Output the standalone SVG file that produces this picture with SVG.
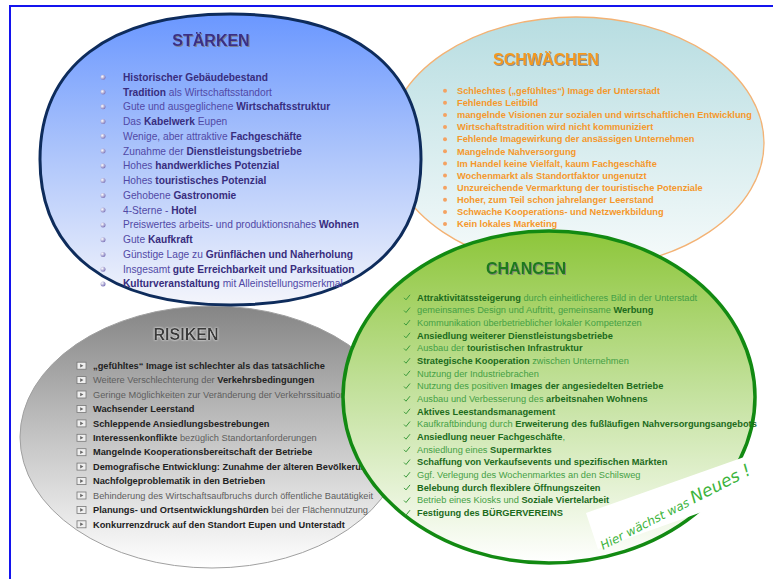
<svg xmlns="http://www.w3.org/2000/svg" width="773" height="579" viewBox="0 0 773 579">
<defs>
<linearGradient id="gStaerken" x1="0" y1="0" x2="0" y2="1">
<stop offset="0" stop-color="#6a97ff"/><stop offset="0.45" stop-color="#a9c2fb"/><stop offset="1" stop-color="#f4f5fb"/>
</linearGradient>
<linearGradient id="gSchw" x1="0" y1="0" x2="0" y2="1">
<stop offset="0" stop-color="#b7dde1"/><stop offset="1" stop-color="#f7fbfb"/>
</linearGradient>
<linearGradient id="gChancen" x1="0" y1="0" x2="0" y2="1">
<stop offset="0" stop-color="#8dc63a"/><stop offset="0.5" stop-color="#c5e2a0"/><stop offset="1" stop-color="#ffffff"/>
</linearGradient>
<linearGradient id="gRisiken" x1="0" y1="0" x2="0" y2="1">
<stop offset="0" stop-color="#858585"/><stop offset="0.5" stop-color="#c4c4c4"/><stop offset="1" stop-color="#ffffff"/>
</linearGradient>
<radialGradient id="gBulS" cx="0.35" cy="0.35" r="0.7">
<stop offset="0" stop-color="#ffffff"/><stop offset="1" stop-color="#7a72b8"/>
</radialGradient>
<filter id="shadow" x="-10%" y="-30%" width="130%" height="170%">
<feDropShadow dx="1" dy="1" stdDeviation="0.6" flood-color="#777" flood-opacity="0.8"/>
</filter>
<filter id="shadowW" x="-10%" y="-30%" width="130%" height="170%">
<feDropShadow dx="0" dy="0" stdDeviation="0.8" flood-color="#fff" flood-opacity="1"/>
</filter>
<circle id="bS" r="2.5" fill="url(#gBulS)"/>
<circle id="bW" r="2" fill="#f4a262"/>
<path id="bC" d="M-3,0.5 L-1,2.5 L3,-2.5" fill="none" stroke="#3a9a3a" stroke-width="1"/>
<g id="bR"><rect x="-5" y="-3.5" width="9" height="7" fill="#efefef" stroke="#777" stroke-width="0.8"/><path d="M-1.8,-1.8 L1.4,0 L-1.8,1.8 Z" fill="#666"/></g>
<style>
text{font-family:"Liberation Sans",Arial,sans-serif}
.title{font-size:16px;font-weight:bold;text-anchor:middle}
.ts{fill:#3b2f85}
.tw{fill:#f39a1f}
.tc{fill:#1d7a1d}
.tr{fill:#3a3a3a}
.st{font-size:10.2px;fill:#5149a6}
.st .b{font-weight:bold;fill:#382d7e}
.sw{font-size:9.25px;fill:#f5982c;font-weight:bold}
.ch{font-size:9.25px;fill:#45a045}
.ch .b{font-weight:bold;fill:#1c6b1c}
.ri{font-size:9.25px;fill:#5e5e5e}
.ri .b{font-weight:bold;fill:#222}
.hand{font-family:"DejaVu Sans",sans-serif;font-style:italic;fill:#3cb43c}
</style>
</defs>
<rect x="0" y="0" width="773" height="579" fill="#ffffff"/>
<rect id="frame" x="10" y="6" width="800" height="600" fill="none" stroke="#1414ee" stroke-width="2"/>

<g id="schwaechen">
<ellipse cx="576" cy="143" rx="188" ry="126" fill="url(#gSchw)" stroke="#f3b274" stroke-width="1.3"/>
<text class="title tw" x="546" y="64.8" filter="url(#shadow)">SCHWÄCHEN</text>
<use href="#bW" x="445" y="90.7"/><use href="#bW" x="445" y="102.8"/><use href="#bW" x="445" y="114.9"/><use href="#bW" x="445" y="127.1"/><use href="#bW" x="445" y="139.2"/><use href="#bW" x="445" y="151.3"/><use href="#bW" x="445" y="163.4"/><use href="#bW" x="445" y="175.5"/><use href="#bW" x="445" y="187.7"/><use href="#bW" x="445" y="199.8"/><use href="#bW" x="445" y="211.9"/><use href="#bW" x="445" y="224"/>
<text class="sw" x="457" y="93.9">Schlechtes („gefühltes“) Image der Unterstadt</text>
<text class="sw" x="457" y="106">Fehlendes Leitbild</text>
<text class="sw" x="457" y="118.1">mangelnde Visionen zur sozialen und wirtschaftlichen Entwicklung</text>
<text class="sw" x="457" y="130.3">Wirtschaftstradition wird nicht kommuniziert</text>
<text class="sw" x="457" y="142.4">Fehlende Imagewirkung der ansässigen Unternehmen</text>
<text class="sw" x="457" y="154.5">Mangelnde Nahversorgung</text>
<text class="sw" x="457" y="166.6">Im Handel keine Vielfalt, kaum Fachgeschäfte</text>
<text class="sw" x="457" y="178.7">Wochenmarkt als Standortfaktor ungenutzt</text>
<text class="sw" x="457" y="190.9">Unzureichende Vermarktung der touristische Potenziale</text>
<text class="sw" x="457" y="203">Hoher, zum Teil schon jahrelanger Leerstand</text>
<text class="sw" x="457" y="215.1">Schwache Kooperations- und Netzwerkbildung</text>
<text class="sw" x="457" y="227.2">Kein lokales Marketing</text>
</g>

<g id="risiken">
<ellipse cx="212" cy="437" rx="192" ry="131" fill="url(#gRisiken)" stroke="#a0a0a0" stroke-width="1"/>
<text class="title tr" x="186" y="339.8" filter="url(#shadowW)">RISIKEN</text>
<use href="#bR" x="82" y="365.7"/><use href="#bR" x="82" y="380.1"/><use href="#bR" x="82" y="394.5"/><use href="#bR" x="82" y="409"/><use href="#bR" x="82" y="423.4"/><use href="#bR" x="82" y="437.8"/><use href="#bR" x="82" y="452.2"/><use href="#bR" x="82" y="466.6"/><use href="#bR" x="82" y="481.1"/><use href="#bR" x="82" y="495.5"/><use href="#bR" x="82" y="509.9"/><use href="#bR" x="82" y="524.3"/>
<text class="ri" x="93" y="368.9"><tspan class="b">„gefühltes“ Image ist schlechter als das tatsächliche</tspan></text>
<text class="ri" x="93" y="383.3">Weitere Verschlechterung der <tspan class="b">Verkehrsbedingungen</tspan></text>
<text class="ri" x="93" y="397.7">Geringe Möglichkeiten zur Veränderung der Verkehrssituation</text>
<text class="ri" x="93" y="412.2"><tspan class="b">Wachsender Leerstand</tspan></text>
<text class="ri" x="93" y="426.6"><tspan class="b">Schleppende Ansiedlungsbestrebungen</tspan></text>
<text class="ri" x="93" y="441"><tspan class="b">Interessenkonflikte</tspan> bezüglich Standortanforderungen</text>
<text class="ri" x="93" y="455.4"><tspan class="b">Mangelnde Kooperationsbereitschaft der Betriebe</tspan></text>
<text class="ri" x="93" y="469.8"><tspan class="b">Demografische Entwicklung: Zunahme der älteren Bevölkerung</tspan></text>
<text class="ri" x="93" y="484.3"><tspan class="b">Nachfolgeproblematik in den Betrieben</tspan></text>
<text class="ri" x="93" y="498.7">Behinderung des Wirtschaftsaufbruchs durch öffentliche Bautätigkeit</text>
<text class="ri" x="93" y="513.1"><tspan class="b">Planungs- und Ortsentwicklungshürden</tspan> bei der Flächennutzung</text>
<text class="ri" x="93" y="527.5"><tspan class="b">Konkurrenzdruck auf den Standort Eupen und Unterstadt</tspan></text>
</g>

<g id="staerken">
<path d="M421,159.5 C421,252.6 352.4,305 230.5,305 C108.6,305 40,252.6 40,159.5 C40,66.4 108.6,14 230.5,14 C352.4,14 421,66.4 421,159.5 Z" fill="url(#gStaerken)" stroke="#0e2c5c" stroke-width="3"/>
<text class="title ts" x="211" y="45.8" filter="url(#shadow)">STÄRKEN</text>
<use href="#bS" x="103" y="77.3"/><use href="#bS" x="103" y="92.1"/><use href="#bS" x="103" y="106.8"/><use href="#bS" x="103" y="121.6"/><use href="#bS" x="103" y="136.3"/><use href="#bS" x="103" y="151.1"/><use href="#bS" x="103" y="165.9"/><use href="#bS" x="103" y="180.6"/><use href="#bS" x="103" y="195.4"/><use href="#bS" x="103" y="210.1"/><use href="#bS" x="103" y="224.9"/><use href="#bS" x="103" y="239.7"/><use href="#bS" x="103" y="254.4"/><use href="#bS" x="103" y="269.2"/><use href="#bS" x="103" y="283.9"/>
<text class="st" x="123" y="80.8"><tspan class="b">Historischer Gebäudebestand</tspan></text>
<text class="st" x="123" y="95.6"><tspan class="b">Tradition</tspan> als Wirtschaftsstandort</text>
<text class="st" x="123" y="110.3">Gute und ausgeglichene <tspan class="b">Wirtschaftsstruktur</tspan></text>
<text class="st" x="123" y="125.1">Das <tspan class="b">Kabelwerk</tspan> Eupen</text>
<text class="st" x="123" y="139.8">Wenige, aber attraktive <tspan class="b">Fachgeschäfte</tspan></text>
<text class="st" x="123" y="154.6">Zunahme der <tspan class="b">Dienstleistungsbetriebe</tspan></text>
<text class="st" x="123" y="169.4">Hohes <tspan class="b">handwerkliches Potenzial</tspan></text>
<text class="st" x="123" y="184.1">Hohes <tspan class="b">touristisches Potenzial</tspan></text>
<text class="st" x="123" y="198.9">Gehobene <tspan class="b">Gastronomie</tspan></text>
<text class="st" x="123" y="213.6">4-Sterne - <tspan class="b">Hotel</tspan></text>
<text class="st" x="123" y="228.4">Preiswertes arbeits- und produktionsnahes <tspan class="b">Wohnen</tspan></text>
<text class="st" x="123" y="243.2">Gute <tspan class="b">Kaufkraft</tspan></text>
<text class="st" x="123" y="257.9">Günstige Lage zu <tspan class="b">Grünflächen und Naherholung</tspan></text>
<text class="st" x="123" y="272.7">Insgesamt <tspan class="b">gute Erreichbarkeit und Parksituation</tspan></text>
<text class="st" x="123" y="287.4"><tspan class="b">Kulturveranstaltung</tspan> mit Alleinstellungsmerkmal</text>
</g>

<g id="chancen">
<ellipse cx="549" cy="397" rx="206" ry="166" fill="url(#gChancen)" stroke="#128a12" stroke-width="3.5"/>
<text class="title tc" x="526" y="273.8" filter="url(#shadow)">CHANCEN</text>
<use href="#bC" x="407" y="297.3"/><use href="#bC" x="407" y="310"/><use href="#bC" x="407" y="322.6"/><use href="#bC" x="407" y="335.3"/><use href="#bC" x="407" y="348"/><use href="#bC" x="407" y="360.7"/><use href="#bC" x="407" y="373.3"/><use href="#bC" x="407" y="386"/><use href="#bC" x="407" y="398.7"/><use href="#bC" x="407" y="411.3"/><use href="#bC" x="407" y="424"/><use href="#bC" x="407" y="436.7"/><use href="#bC" x="407" y="449.3"/><use href="#bC" x="407" y="462"/><use href="#bC" x="407" y="474.7"/><use href="#bC" x="407" y="487.4"/><use href="#bC" x="407" y="500"/><use href="#bC" x="407" y="512.7"/>
<text class="ch" x="417" y="300.5"><tspan class="b">Attraktivitätssteigerung</tspan> durch einheitlicheres Bild in der Unterstadt</text>
<text class="ch" x="417" y="313.2">gemeinsames Design und Auftritt, gemeinsame <tspan class="b">Werbung</tspan></text>
<text class="ch" x="417" y="325.8">Kommunikation überbetrieblicher lokaler Kompetenzen</text>
<text class="ch" x="417" y="338.5"><tspan class="b">Ansiedlung weiterer Dienstleistungsbetriebe</tspan></text>
<text class="ch" x="417" y="351.2">Ausbau der <tspan class="b">touristischen Infrastruktur</tspan></text>
<text class="ch" x="417" y="363.9"><tspan class="b">Strategische Kooperation</tspan> zwischen Unternehmen</text>
<text class="ch" x="417" y="376.5">Nutzung der Industriebrachen</text>
<text class="ch" x="417" y="389.2">Nutzung des positiven <tspan class="b">Images der angesiedelten Betriebe</tspan></text>
<text class="ch" x="417" y="401.9">Ausbau und Verbesserung des <tspan class="b">arbeitsnahen Wohnens</tspan></text>
<text class="ch" x="417" y="414.5"><tspan class="b">Aktives Leestandsmanagement</tspan></text>
<text class="ch" x="417" y="427.2">Kaufkraftbindung durch <tspan class="b">Erweiterung des fußläufigen Nahversorgungsangebots</tspan></text>
<text class="ch" x="417" y="439.9"><tspan class="b">Ansiedlung neuer Fachgeschäfte</tspan>,</text>
<text class="ch" x="417" y="452.5">Ansiedlung eines <tspan class="b">Supermarktes</tspan></text>
<text class="ch" x="417" y="465.2"><tspan class="b">Schaffung von Verkaufsevents und spezifischen Märkten</tspan></text>
<text class="ch" x="417" y="477.9">Ggf. Verlegung des Wochenmarktes an den Schilsweg</text>
<text class="ch" x="417" y="490.6"><tspan class="b">Belebung durch flexiblere Öffnungszeiten</tspan></text>
<text class="ch" x="417" y="503.2">Betrieb eines Kiosks und <tspan class="b">Soziale Viertelarbeit</tspan></text>
<text class="ch" x="417" y="515.9"><tspan class="b">Festigung des BÜRGERVEREINS</tspan></text>
</g>

<g id="note">
<polygon points="586,513 775,446 775,486 598,549" fill="#ffffff"/>
<text class="hand" transform="translate(603,550) rotate(-27)" x="0" y="0"><tspan font-size="12">Hier wächst was </tspan><tspan font-size="17">Neues !</tspan></text>
</g>
</svg>
